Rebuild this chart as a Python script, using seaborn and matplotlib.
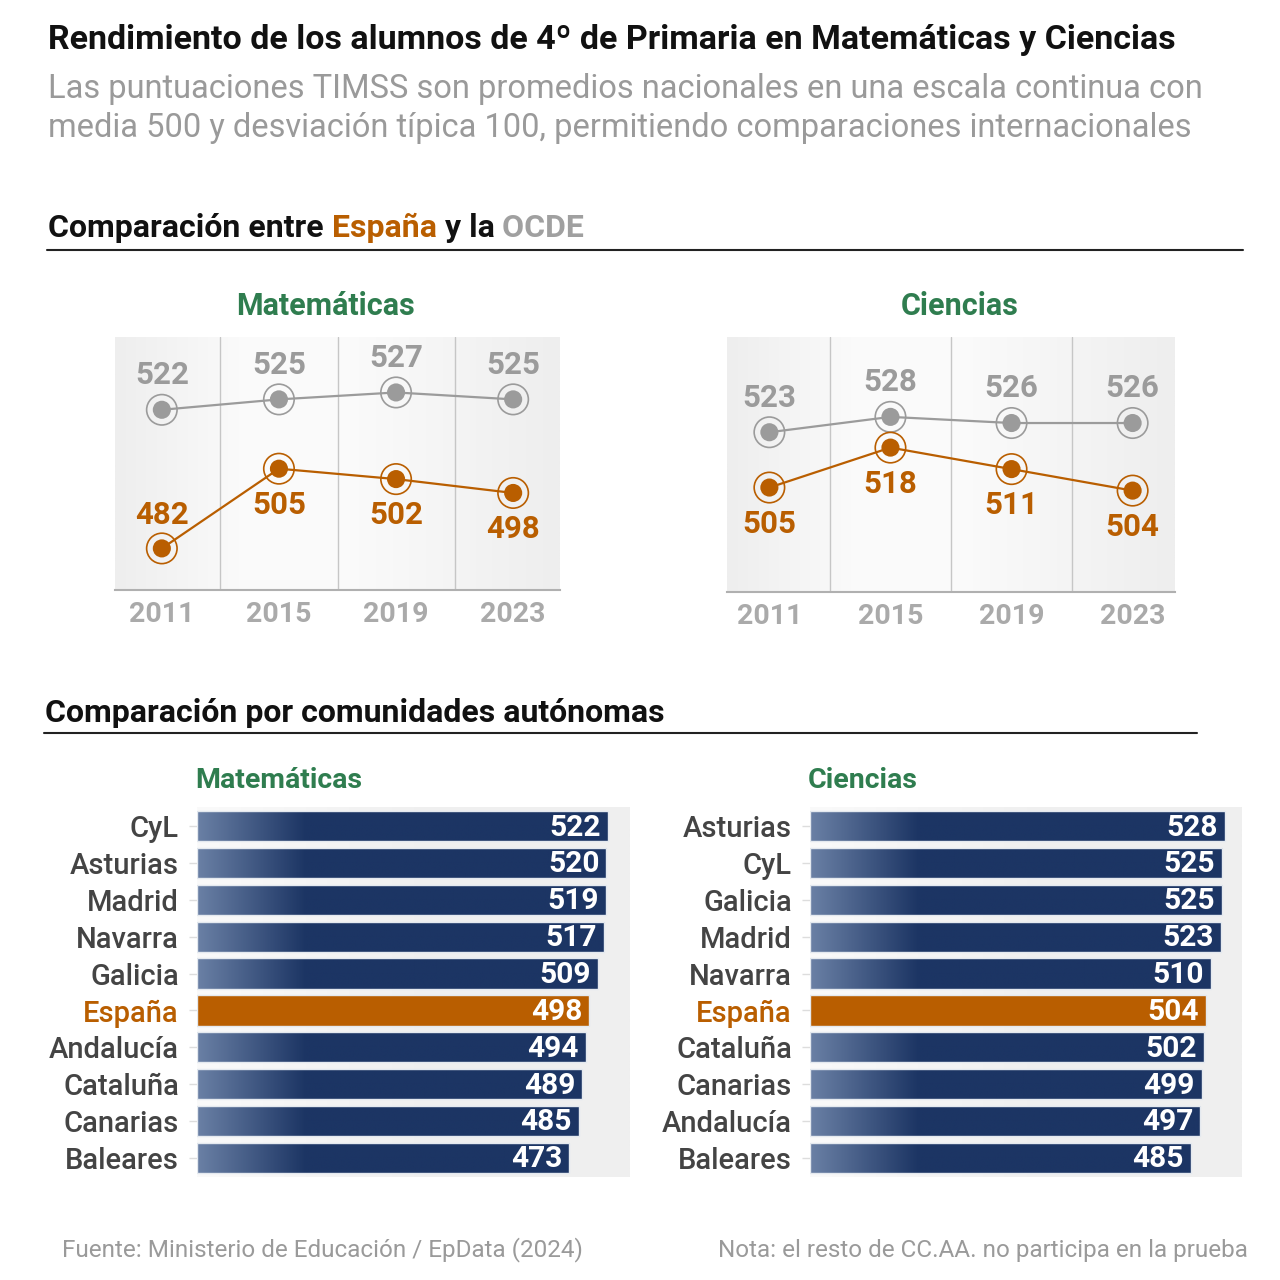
import numpy as np
import matplotlib.pyplot as plt
import seaborn as sns
import pandas as pd
from matplotlib.colors import LinearSegmentedColormap
from matplotlib.lines import Line2D
from matplotlib.text import Annotation

# Data
years = ['2011', '2015', '2019', '2023']
mat_espana = [482, 505, 502, 498]
mat_ocde = [522, 525, 527, 525]
cie_espana = [505, 518, 511, 504]
cie_ocde = [523, 528, 526, 526]

mat_ccaa = ['CyL', 'Asturias', 'Madrid', 'Navarra', 'Galicia', 'España',
            'Andalucía', 'Cataluña', 'Canarias', 'Baleares']
mat_scores = [522, 520, 519, 517, 509, 498, 494, 489, 485, 473]
cie_ccaa = ['Asturias', 'CyL', 'Galicia', 'Madrid', 'Navarra', 'España',
            'Cataluña', 'Canarias', 'Andalucía', 'Baleares']
cie_scores = [528, 525, 525, 523, 510, 504, 502, 499, 497, 485]

ORANGE = '#b95e00'
GRAY = '#9b9b9b'
GREEN = '#2f7d4f'
NAVY = '#1c3564'

sns.set_theme(style='white')
plt.rcParams['font.family'] = ['Roboto', 'DejaVu Sans']

W = H = 1280
fig = plt.figure(figsize=(12.8, 12.8), dpi=100)


def px_axes(x0, y0, x1, y1):
    return fig.add_axes([x0 / W, 1 - y1 / H, (x1 - x0) / W, (y1 - y0) / H])


def px_text(x, y, s, **kw):
    return fig.text(x / W, 1 - y / H, s, **kw)


def px_line(x0, x1, y, color='#222222'):
    fig.add_artist(Line2D([x0 / W, x1 / W], [1 - y / H, 1 - y / H],
                          transform=fig.transFigure, color=color, lw=1.5))


grad = np.linspace(0, 1, 256).reshape(1, -1)
panel_cmap = LinearSegmentedColormap.from_list(
    'panel', [(0, '#eeeeee'), (0.3, '#fbfbfb'), (0.55, '#fafafa'), (1, '#eeeeee')])
bar_cmap = LinearSegmentedColormap.from_list(
    'bar', [(0, '#6a80a5'), (0.25, NAVY), (1, NAVY)])
bg_cmap = LinearSegmentedColormap.from_list(
    'bg', [(0, '#fafafa'), (0.5, '#f0f0f0'), (1, '#efefef')])


def line_panel(box, esp, ocde, ylim, xlim, esp_up):
    ax = px_axes(*box)
    x = np.arange(len(years))
    ax.imshow(grad, extent=[xlim[0], xlim[1], ylim[0], ylim[1]], aspect='auto',
              cmap=panel_cmap, zorder=0)
    for s in [0.5, 1.5, 2.5]:
        ax.axvline(s, color='#c6c6c6', lw=1, zorder=1)
    df = pd.DataFrame({'year': x, 'España': esp, 'OCDE': ocde})
    for col, color in [('OCDE', GRAY), ('España', ORANGE)]:
        sns.lineplot(data=df, x='year', y=col, color=color, lw=1.6, ax=ax, zorder=2)
        sns.scatterplot(data=df, x='year', y=col, color=color, s=170,
                        edgecolor='none', ax=ax, zorder=3)
        ax.scatter(x, df[col], s=480, facecolor='none', edgecolor=color,
                   lw=1.2, zorder=3)
    for i, v in enumerate(ocde):
        ax.annotate(str(v), (i, v), xytext=(0, 25), textcoords='offset points',
                    ha='center', va='center', color=GRAY, fontsize=22.5,
                    fontweight='bold')
    for i, v in enumerate(esp):
        dy = 24 if esp_up[i] else -26
        ax.annotate(str(v), (i, v), xytext=(0, dy), textcoords='offset points',
                    ha='center', va='center', color=ORANGE, fontsize=22.5,
                    fontweight='bold')
    ax.set_xlim(xlim)
    ax.set_ylim(ylim)
    ax.set_xticks(x, years)
    ax.set_yticks([])
    ax.tick_params(axis='x', length=0, pad=8, labelsize=20.5, labelcolor='#aaaaaa')
    for lab in ax.get_xticklabels():
        lab.set_fontweight('bold')
    ax.set_xlabel('')
    ax.set_ylabel('')
    for side in ['top', 'left', 'right']:
        ax.spines[side].set_visible(False)
    ax.spines['bottom'].set_color('#b0b0b0')
    ax.spines['bottom'].set_linewidth(1.5)
    return ax


def bar_panel(box, labels, scores):
    ax = px_axes(*box)
    xmax = 550
    df = pd.DataFrame({'ccaa': labels, 'score': scores})
    colors = [ORANGE if c == 'España' else NAVY for c in labels]
    sns.barplot(data=df, x='score', y='ccaa', hue='ccaa', palette=colors,
                saturation=1, legend=False, width=0.82, edgecolor='#e4e9ef',
                linewidth=1, ax=ax, zorder=2)
    ax.imshow(grad, extent=[0, xmax, 9.52, -0.52], aspect='auto', cmap=bg_cmap,
              zorder=0)
    for patch in ax.patches:
        idx = int(round(patch.get_y() + patch.get_height() / 2))
        if labels[idx] == 'España':
            continue
        y0 = patch.get_y()
        im = ax.imshow(grad, extent=[0, xmax, y0 + patch.get_height(), y0],
                       aspect='auto', cmap=bar_cmap, zorder=2.5)
        im.set_clip_path(patch)
        patch.set_facecolor('none')
        patch.set_zorder(3)
    for i, v in enumerate(scores):
        ax.annotate(str(v), (v, i), xytext=(-5, -1), textcoords='offset points',
                    ha='right', va='center', color='white', fontsize=21.5,
                    fontweight='bold', zorder=4)
    ax.set_xlim(0, xmax)
    ax.set_ylim(9.52, -0.52)
    ax.set_xticks([])
    ax.tick_params(axis='y', left=True, length=6, width=1, color='#dddddd',
                   pad=7, labelsize=21, labelcolor='#444444')
    for lab in ax.get_yticklabels():
        lab.set_fontweight('medium')
        if lab.get_text() == 'España':
            lab.set_color(ORANGE)
    ax.set_xlabel('')
    ax.set_ylabel('')
    for s in ax.spines.values():
        s.set_visible(False)
    return ax


# Titles
px_text(48, 40, 'Rendimiento de los alumnos de 4º de Primaria en Matemáticas y Ciencias',
        fontsize=24.5, fontweight='bold', color='#111111', va='center')
px_text(48, 89, 'Las puntuaciones TIMSS son promedios nacionales en una escala continua con',
        fontsize=23.5, color='#9a9a9a', va='center')
px_text(48, 128, 'media 500 y desviación típica 100, permitiendo comparaciones internacionales',
        fontsize=23.5, color='#9a9a9a', va='center')

# Section 1 header with coloured words
prev = px_text(48, 228, 'Comparación entre', fontsize=23, fontweight='bold',
               color='#111111', va='center')
for piece, color in [(' España', ORANGE), (' y la', '#111111'), (' OCDE', '#a0a0a0')]:
    ann = Annotation(piece, xy=(1, 0), xycoords=prev, va='bottom', ha='left',
                     fontsize=23, fontweight='bold', color=color,
                     annotation_clip=False)
    prev = fig.add_artist(ann)
px_line(47, 1243, 250)

px_text(326, 306, 'Matemáticas', fontsize=22, fontweight='bold', color=GREEN,
        ha='center', va='center')
px_text(960, 306, 'Ciencias', fontsize=22, fontweight='bold', color=GREEN,
        ha='center', va='center')

line_panel((115, 337, 560, 590), mat_espana, mat_ocde, (470, 543), (-0.4, 3.4),
           [True, False, False, False])
line_panel((727, 337, 1175, 592), cie_espana, cie_ocde, (471, 554), (-0.35, 3.35),
           [False, False, False, False])

# Section 2
px_text(45, 713, 'Comparación por comunidades autónomas', fontsize=23,
        fontweight='bold', color='#111111', va='center')
px_line(44, 1197, 733)
px_text(195, 780, 'Matemáticas', fontsize=20.5, fontweight='bold', color=GREEN,
        va='center')
px_text(808, 780, 'Ciencias', fontsize=20.5, fontweight='bold', color=GREEN,
        va='center')

bar_panel((197, 807, 630, 1177), mat_ccaa, mat_scores)
bar_panel((810, 807, 1242, 1177), cie_ccaa, cie_scores)

# Footer
px_text(62, 1250, 'Fuente: Ministerio de Educación / EpData (2024)', fontsize=17.5,
        color='#9a9a9a', va='center')
px_text(1248, 1250, 'Nota: el resto de CC.AA. no participa en la prueba', fontsize=17.5,
        color='#9a9a9a', va='center', ha='right')

fig.savefig('out.png', dpi=100, facecolor='white')
